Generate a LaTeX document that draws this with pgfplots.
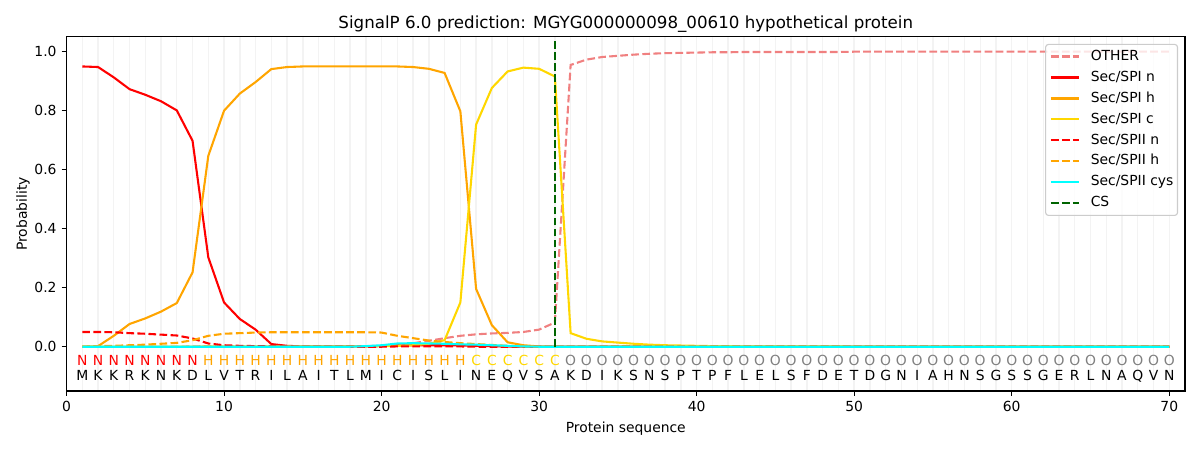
\documentclass[border=0pt]{standalone}
\usepackage{fontspec}
\setmainfont{DejaVu Sans}
\usepackage{pgfplots}
\pgfplotsset{compat=1.18}
\usepackage{pgfplotstable}
\definecolor{lightcoral}{HTML}{F08080}
\definecolor{mplorange}{HTML}{FFA500}
\definecolor{mplgold}{HTML}{FFD700}
\definecolor{mplcyan}{HTML}{00FFFF}
\definecolor{mplgreen}{HTML}{006400}
\definecolor{mplgray}{HTML}{808080}
\definecolor{gridgray}{HTML}{F3F3F3}
\pgfplotstableread{
x other n h c IIn IIh cys
1 0.000 0.950 0.000 0.000 0.050 0.000 0.000
2 0.000 0.948 0.002 0.000 0.050 0.002 0.000
3 0.000 0.913 0.037 0.000 0.049 0.003 0.000
4 0.000 0.873 0.077 0.000 0.046 0.005 0.000
5 0.000 0.854 0.096 0.000 0.044 0.007 0.000
6 0.000 0.832 0.119 0.000 0.041 0.010 0.000
7 0.000 0.801 0.148 0.000 0.038 0.013 0.000
8 0.001 0.698 0.252 0.000 0.028 0.022 0.000
9 0.002 0.303 0.647 0.001 0.011 0.037 0.000
10 0.002 0.150 0.800 0.001 0.005 0.044 0.000
11 0.002 0.094 0.858 0.001 0.003 0.046 0.000
12 0.002 0.058 0.897 0.001 0.002 0.048 0.000
13 0.001 0.009 0.941 0.001 0.001 0.049 0.000
14 0.001 0.003 0.948 0.001 0.001 0.049 0.000
15 0.001 0.001 0.950 0.001 0.000 0.049 0.000
16 0.001 0.001 0.950 0.001 0.000 0.049 0.000
17 0.001 0.001 0.950 0.001 0.000 0.049 0.000
18 0.001 0.001 0.950 0.001 0.000 0.049 0.000
19 0.002 0.001 0.950 0.001 0.000 0.049 0.002
20 0.003 0.002 0.950 0.002 0.000 0.048 0.005
21 0.005 0.004 0.950 0.003 0.001 0.037 0.011
22 0.012 0.005 0.948 0.005 0.001 0.029 0.012
23 0.020 0.005 0.942 0.010 0.001 0.021 0.011
24 0.029 0.005 0.928 0.022 0.001 0.016 0.010
25 0.037 0.004 0.798 0.150 0.001 0.012 0.008
26 0.042 0.003 0.196 0.753 0.000 0.009 0.007
27 0.045 0.002 0.073 0.877 0.000 0.006 0.005
28 0.047 0.001 0.015 0.933 0.000 0.003 0.003
29 0.050 0.000 0.005 0.946 0.000 0.001 0.001
30 0.058 0.000 0.001 0.942 0.000 0.000 0.000
31 0.082 0.000 0.000 0.916 0.000 0.000 0.000
32 0.955 0.000 0.000 0.046 0.000 0.000 0.000
33 0.973 0.000 0.000 0.027 0.000 0.000 0.000
34 0.982 0.000 0.000 0.018 0.000 0.000 0.000
35 0.986 0.000 0.000 0.014 0.000 0.000 0.000
36 0.990 0.000 0.000 0.010 0.000 0.000 0.000
37 0.993 0.000 0.000 0.007 0.000 0.000 0.000
38 0.995 0.000 0.000 0.005 0.000 0.000 0.000
39 0.996 0.000 0.000 0.004 0.000 0.000 0.000
40 0.997 0.000 0.000 0.003 0.000 0.000 0.000
41 0.998 0.000 0.000 0.002 0.000 0.000 0.000
42 0.998 0.000 0.000 0.002 0.000 0.000 0.000
43 0.999 0.000 0.000 0.001 0.000 0.000 0.000
44 0.999 0.000 0.000 0.001 0.000 0.000 0.000
45 0.999 0.000 0.000 0.001 0.000 0.000 0.000
46 0.999 0.000 0.000 0.001 0.000 0.000 0.000
47 0.999 0.000 0.000 0.001 0.000 0.000 0.000
48 0.999 0.000 0.000 0.001 0.000 0.000 0.000
49 0.999 0.000 0.000 0.001 0.000 0.000 0.000
50 1.000 0.000 0.000 0.000 0.000 0.000 0.000
51 1.000 0.000 0.000 0.000 0.000 0.000 0.000
52 1.000 0.000 0.000 0.000 0.000 0.000 0.000
53 1.000 0.000 0.000 0.000 0.000 0.000 0.000
54 1.000 0.000 0.000 0.000 0.000 0.000 0.000
55 1.000 0.000 0.000 0.000 0.000 0.000 0.000
56 1.000 0.000 0.000 0.000 0.000 0.000 0.000
57 1.000 0.000 0.000 0.000 0.000 0.000 0.000
58 1.000 0.000 0.000 0.000 0.000 0.000 0.000
59 1.000 0.000 0.000 0.000 0.000 0.000 0.000
60 1.000 0.000 0.000 0.000 0.000 0.000 0.000
61 1.000 0.000 0.000 0.000 0.000 0.000 0.000
62 1.000 0.000 0.000 0.000 0.000 0.000 0.000
63 1.000 0.000 0.000 0.000 0.000 0.000 0.000
64 1.000 0.000 0.000 0.000 0.000 0.000 0.000
65 1.000 0.000 0.000 0.000 0.000 0.000 0.000
66 1.000 0.000 0.000 0.000 0.000 0.000 0.000
67 1.000 0.000 0.000 0.000 0.000 0.000 0.000
68 1.000 0.000 0.000 0.000 0.000 0.000 0.000
69 1.000 0.000 0.000 0.000 0.000 0.000 0.000
70 1.000 0.000 0.000 0.000 0.000 0.000 0.000
}\probs
\begin{document}
\begin{tikzpicture}
\useasboundingbox (-47.9bp,-42.5bp) rectangle (816.1bp,281.5bp);
\begin{axis}[
  at={(0,0)}, anchor=south west,
  scale only axis, width=805.3bp, height=254.9bp,
  xmin=0, xmax=71, ymin=-0.15, ymax=1.05,
  xtick={0,10,20,30,40,50,60,70},
  ytick={0,0.2,0.4,0.6,0.8,1.0},
  minor xtick={1,...,70},
  xmajorgrids, xminorgrids,
  major grid style={gridgray, line width=1bp},
  minor grid style={gridgray, line width=1bp},
  minor tick length=0pt,
  major tick length=3.5bp,
  tick align=outside,
  tick pos=left,
  major tick style={black, line width=0.8bp},
  axis line style={line width=0.8bp},
  every axis plot/.append style={line width=1.5bp},
  tick label style={font=\fontsize{10bp}{12bp}\selectfont},
  /pgf/number format/assume math mode=true,
  yticklabel style={/pgf/number format/fixed, /pgf/number format/fixed zerofill, /pgf/number format/precision=1},
  xticklabel style={anchor=north, inner sep=0pt, yshift=-3.5bp},
  yticklabel style={anchor=east, inner sep=0pt, xshift=-3.5bp},
  title={SignalP 6.0 prediction: MGYG000000098\_00610 hypothetical protein},
  title style={at={(axis description cs:0.5,1.0251)}, anchor=base, yshift=-6pt, inner sep=0pt, font=\fontsize{12bp}{14bp}\selectfont},
  xlabel={Protein sequence},
  xlabel style={at={(axis description cs:0.5,-0.1161)}, anchor=base, inner sep=0pt, font=\fontsize{10bp}{12bp}\selectfont},
  ylabel={Probability},
  ylabel style={at={(axis description cs:-0.0354,0.5)}, anchor=base, inner sep=0pt, font=\fontsize{10bp}{12bp}\selectfont},
  legend cell align=left,
  legend image code/.code={\draw[#1] (0bp,0bp) -- (20bp,0bp);},
  legend style={at={(axis description cs:0.9938,0.9804)}, anchor=north east,
    draw=black!20, line width=0.8bp, rounded corners=2bp, fill=white, fill opacity=0.8, text opacity=1,
    font=\fontsize{10bp}{12bp}\selectfont, inner xsep=3bp, inner ysep=4bp,
    nodes={inner sep=0pt, text height=7.3bp, text depth=2.1bp},
    row sep=5.7bp,
    /tikz/every odd column/.append style={column sep=8bp}},
]
\addplot[lightcoral, dash pattern=on 5.55bp off 2.4bp] table[x=x, y=other] {\probs};
\addlegendentry{OTHER}
\addplot[red] table[x=x, y=n] {\probs};
\addlegendentry{Sec/SPI n}
\addplot[mplorange] table[x=x, y=h] {\probs};
\addlegendentry{Sec/SPI h}
\addplot[mplgold] table[x=x, y=c] {\probs};
\addlegendentry{Sec/SPI c}
\addplot[red, dash pattern=on 5.55bp off 2.4bp] table[x=x, y=IIn] {\probs};
\addlegendentry{Sec/SPII n}
\addplot[mplorange, dash pattern=on 5.55bp off 2.4bp] table[x=x, y=IIh] {\probs};
\addlegendentry{Sec/SPII h}
\addplot[mplcyan] table[x=x, y=cys] {\probs};
\addlegendentry{Sec/SPII cys}
\addplot[mplgreen, dash pattern=on 5.55bp off 2.4bp] coordinates {(31,0) (31,1.037)};
\addlegendentry{CS}
\foreach \i/\l/\c in {1/N/red,2/N/red,3/N/red,4/N/red,5/N/red,6/N/red,7/N/red,8/N/red,
  9/H/mplorange,10/H/mplorange,11/H/mplorange,12/H/mplorange,13/H/mplorange,14/H/mplorange,15/H/mplorange,16/H/mplorange,17/H/mplorange,18/H/mplorange,19/H/mplorange,20/H/mplorange,21/H/mplorange,22/H/mplorange,23/H/mplorange,24/H/mplorange,25/H/mplorange,
  26/C/mplgold,27/C/mplgold,28/C/mplgold,29/C/mplgold,30/C/mplgold,31/C/mplgold,
  32/O/mplgray,33/O/mplgray,34/O/mplgray,35/O/mplgray,36/O/mplgray,37/O/mplgray,38/O/mplgray,39/O/mplgray,40/O/mplgray,41/O/mplgray,42/O/mplgray,43/O/mplgray,44/O/mplgray,45/O/mplgray,46/O/mplgray,47/O/mplgray,48/O/mplgray,49/O/mplgray,50/O/mplgray,51/O/mplgray,52/O/mplgray,53/O/mplgray,54/O/mplgray,55/O/mplgray,56/O/mplgray,57/O/mplgray,58/O/mplgray,59/O/mplgray,60/O/mplgray,61/O/mplgray,62/O/mplgray,63/O/mplgray,64/O/mplgray,65/O/mplgray,66/O/mplgray,67/O/mplgray,68/O/mplgray,69/O/mplgray,70/O/mplgray} {
  \edef\tmp{\noexpand\node[anchor=base, inner sep=0pt, text=\c, font=\noexpand\fontsize{10bp}{12bp}\noexpand\selectfont] at (axis cs:\i,-0.064) {\l};}
  \tmp
}
\foreach \i/\l in {1/M,2/K,3/K,4/R,5/K,6/N,7/K,8/D,9/L,10/V,11/T,12/R,13/I,14/L,15/A,16/I,17/T,18/L,19/M,20/I,21/C,22/I,23/S,24/L,25/I,26/N,27/E,28/Q,29/V,30/S,31/A,32/K,33/D,34/I,35/K,36/S,37/N,38/S,39/P,40/T,41/P,42/F,43/L,44/E,45/L,46/S,47/F,48/D,49/E,50/T,51/D,52/G,53/N,54/I,55/A,56/H,57/N,58/S,59/G,60/S,61/S,62/G,63/E,64/R,65/L,66/N,67/A,68/Q,69/V,70/N} {
  \edef\tmp{\noexpand\node[anchor=base, inner sep=0pt, font=\noexpand\fontsize{10bp}{12bp}\noexpand\selectfont] at (axis cs:\i,-0.1149) {\l};}
  \tmp
}
\end{axis}
\end{tikzpicture}
\end{document}
